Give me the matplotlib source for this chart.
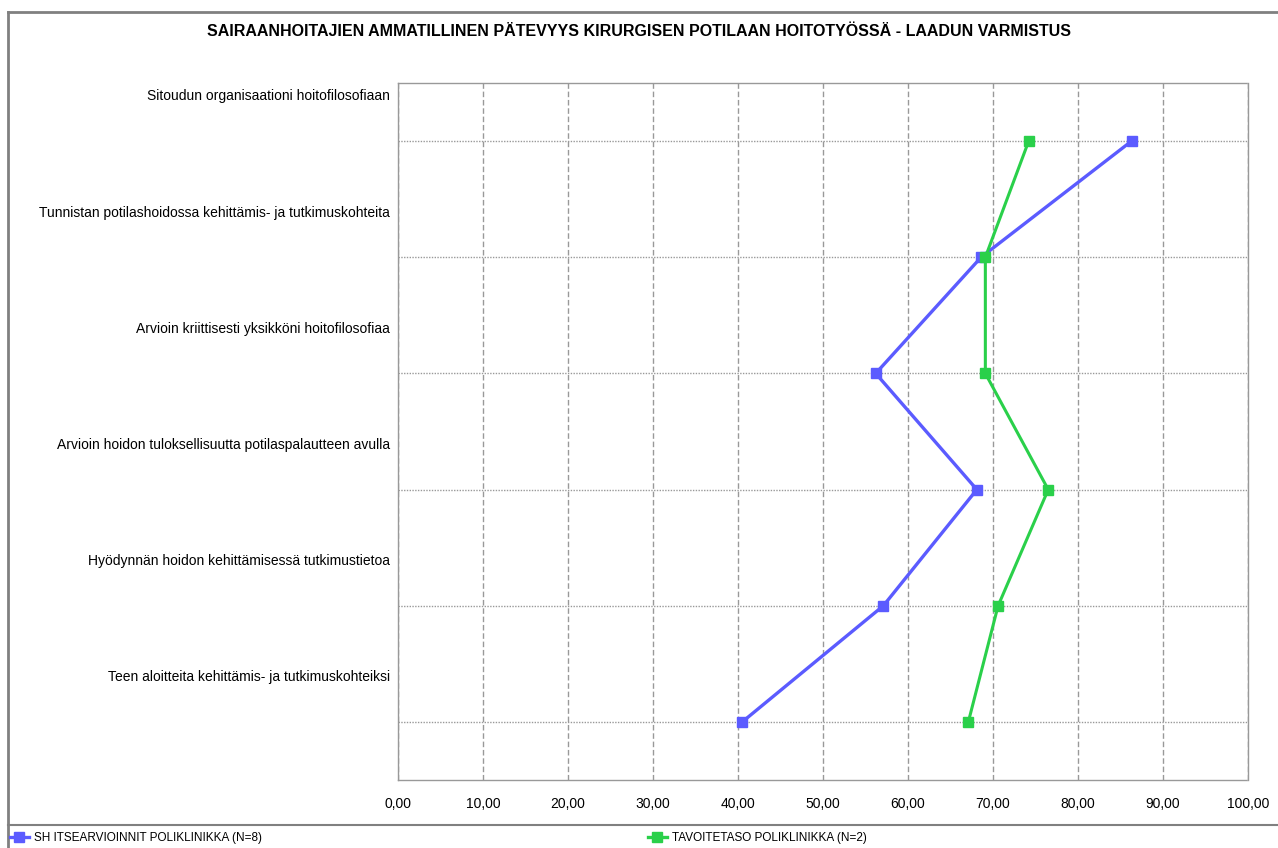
import matplotlib
matplotlib.use("Agg")
import matplotlib.pyplot as plt
from matplotlib.lines import Line2D

plt.rcParams['font.family'] = ['Liberation Sans', 'DejaVu Sans']

title = "SAIRAANHOITAJIEN AMMATILLINEN PÄTEVYYS KIRURGISEN POTILAAN HOITOTYÖSSÄ - LAADUN VARMISTUS"
categories = [
    "Sitoudun organisaationi hoitofilosofiaan",
    "Tunnistan potilashoidossa kehittämis- ja tutkimuskohteita",
    "Arvioin kriittisesti yksikköni hoitofilosofiaa",
    "Arvioin hoidon tuloksellisuutta potilaspalautteen avulla",
    "Hyödynnän hoidon kehittämisessä tutkimustietoa",
    "Teen aloitteita kehittämis- ja tutkimuskohteiksi",
]
self_assessment = [86.3, 68.6, 56.2, 68.1, 57.1, 40.5]
target_level = [74.2, 69.1, 69.1, 76.5, 70.6, 67.1]
series_names = ["SH ITSEARVIOINNIT POLIKLINIKKA (N=8)", "TAVOITETASO POLIKLINIKKA (N=2)"]
x_ticks = [0, 10, 20, 30, 40, 50, 60, 70, 80, 90, 100]
x_tick_labels = ["0,00", "10,00", "20,00", "30,00", "40,00", "50,00",
                 "60,00", "70,00", "80,00", "90,00", "100,00"]

blue = "#5B5BFF"
green = "#2AD04A"
grid_grey = "#999999"

W, H = 1278, 848
fig = plt.figure(figsize=(W / 100, H / 100), dpi=100)
fig.patch.set_facecolor("white")

ax = fig.add_axes([398 / W, 1 - 780 / H, 850 / W, 697 / H])
ypos = list(range(len(categories)))

ax.set_xlim(0, 100)
ax.set_ylim(len(categories) - 0.5, -0.5)

# grid: dashed verticals, dotted horizontals
for xv in x_ticks:
    ax.axvline(xv, color=grid_grey, lw=1.0, ls=(0, (4, 2)), zorder=1)
for yv in ypos:
    ax.axhline(yv, color=grid_grey, lw=1.0, ls=(0, (1, 1)), zorder=1)

for s in ax.spines.values():
    s.set_color(grid_grey)
    s.set_linewidth(1.0)
    s.set_linestyle((0, (2, 1)))

ax.plot(self_assessment, ypos, color=blue, lw=2.4, marker="s", ms=7.5,
        markeredgecolor=blue, zorder=3)
ax.plot(target_level, ypos, color=green, lw=2.2, marker="s", ms=7.5,
        markeredgecolor=green, zorder=4)

ax.set_xticks(x_ticks)
ax.set_xticklabels(x_tick_labels, fontsize=10)
ax.tick_params(axis="x", length=0, pad=12)
ax.set_yticks([])

trans = ax.get_yaxis_transform()
for i, lab in enumerate(categories):
    ax.text(-0.0094, i - 0.385, lab, transform=trans, ha="right", va="center",
            fontsize=10)

fig.text(639 / W, 1 - 32 / H, title, ha="center", va="center",
         fontsize=11.5, fontweight="bold")

# outer frame and legend separator
frame_kw = dict(color="#808080", lw=2.0, transform=fig.transFigure)
fig.add_artist(Line2D([8 / W, 8 / W], [0, 1 - 12 / H], **frame_kw))
fig.add_artist(Line2D([8 / W, 1], [1 - 12 / H, 1 - 12 / H], **frame_kw))
fig.add_artist(Line2D([8 / W, 1], [1 - 825 / H, 1 - 825 / H], color="#808080",
                      lw=1.5, transform=fig.transFigure))

# legend entries along the bottom
for name, col, x0 in [(series_names[0], blue, 10), (series_names[1], green, 648)]:
    h = Line2D([], [], color=col, lw=2.4, marker="s", ms=7, markeredgecolor=col)
    fig.legend([h], [name], loc="center left",
               bbox_to_anchor=(x0 / W, 1 - 838 / H), frameon=False,
               fontsize=8.5, handlelength=1.6, handletextpad=0.4,
               borderpad=0, borderaxespad=0)

fig.savefig("out.png", dpi=100, facecolor="white")
